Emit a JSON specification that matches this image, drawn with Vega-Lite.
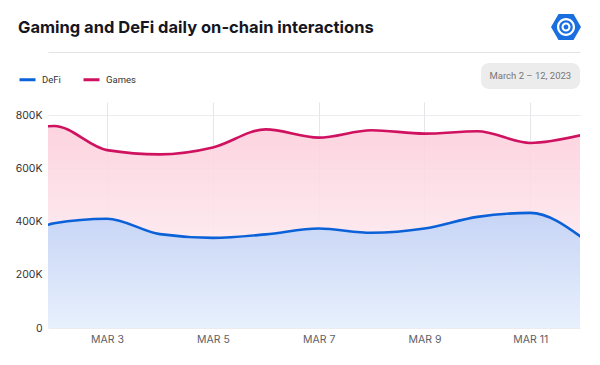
{
  "$schema": "https://vega.github.io/schema/vega-lite/v6.json",
  "width": 532,
  "height": 226,
  "autosize": {"type": "none"},
  "padding": {"left": 48, "top": 102, "right": 20, "bottom": 37},
  "background": "white",
  "title": {
    "text": "Gaming and DeFi daily on-chain interactions",
    "anchor": "start",
    "frame": "group",
    "dx": -30,
    "dy": 38,
    "offset": 14,
    "fontSize": 16.5,
    "font": "Inter",
    "fontWeight": 700,
    "color": "#16161f"
  },
  "config": {"view": {"stroke": null}, "font": "Inter"},
  "data": {
    "values": [
      {"date": "2023-03-01T00:00:00Z", "series": "Games", "value": 690000},
      {"date": "2023-03-02T00:00:00Z", "series": "Games", "value": 760000},
      {"date": "2023-03-03T00:00:00Z", "series": "Games", "value": 669000},
      {"date": "2023-03-04T00:00:00Z", "series": "Games", "value": 653000},
      {"date": "2023-03-05T00:00:00Z", "series": "Games", "value": 679000},
      {"date": "2023-03-06T00:00:00Z", "series": "Games", "value": 747000},
      {"date": "2023-03-07T00:00:00Z", "series": "Games", "value": 716000},
      {"date": "2023-03-08T00:00:00Z", "series": "Games", "value": 744000},
      {"date": "2023-03-09T00:00:00Z", "series": "Games", "value": 731000},
      {"date": "2023-03-10T00:00:00Z", "series": "Games", "value": 740000},
      {"date": "2023-03-11T00:00:00Z", "series": "Games", "value": 696000},
      {"date": "2023-03-12T00:00:00Z", "series": "Games", "value": 727000},
      {"date": "2023-03-01T00:00:00Z", "series": "DeFi", "value": 275000},
      {"date": "2023-03-02T00:00:00Z", "series": "DeFi", "value": 394000},
      {"date": "2023-03-03T00:00:00Z", "series": "DeFi", "value": 411000},
      {"date": "2023-03-04T00:00:00Z", "series": "DeFi", "value": 353000},
      {"date": "2023-03-05T00:00:00Z", "series": "DeFi", "value": 339000},
      {"date": "2023-03-06T00:00:00Z", "series": "DeFi", "value": 352000},
      {"date": "2023-03-07T00:00:00Z", "series": "DeFi", "value": 374000},
      {"date": "2023-03-08T00:00:00Z", "series": "DeFi", "value": 358000},
      {"date": "2023-03-09T00:00:00Z", "series": "DeFi", "value": 374000},
      {"date": "2023-03-10T00:00:00Z", "series": "DeFi", "value": 418000},
      {"date": "2023-03-11T00:00:00Z", "series": "DeFi", "value": 433000},
      {"date": "2023-03-12T00:00:00Z", "series": "DeFi", "value": 337000}
    ]
  },
  "layer": [
    {
      "transform": [{"filter": "datum.series === 'Games'"}],
      "mark": {
        "type": "area",
        "interpolate": "monotone",
        "clip": true,
        "opacity": 0.9,
        "color": {
          "gradient": "linear",
          "x1": 0, "y1": 0, "x2": 0, "y2": 1,
          "stops": [
            {"offset": 0, "color": "#fccfdc"},
            {"offset": 0.5, "color": "#fde5ec"},
            {"offset": 1, "color": "#ffffff"}
          ]
        }
      },
      "encoding": {
        "x": {
          "field": "date",
          "type": "temporal",
          "scale": {
            "type": "utc",
            "domain": [
              {"year": 2023, "month": 3, "date": 1, "hours": 21, "minutes": 13, "utc": true},
              {"year": 2023, "month": 3, "date": 11, "hours": 22, "minutes": 33, "utc": true}
            ]
          },
          "axis": {
            "values": [
              {"year": 2023, "month": 3, "date": 3, "utc": true},
              {"year": 2023, "month": 3, "date": 5, "utc": true},
              {"year": 2023, "month": 3, "date": 7, "utc": true},
              {"year": 2023, "month": 3, "date": 9, "utc": true},
              {"year": 2023, "month": 3, "date": 11, "utc": true}
            ],
            "labelExpr": "upper(utcFormat(datum.value, '%b %-d'))",
            "grid": true,
            "gridColor": "#e6e6ea",
            "ticks": false,
            "tickSize": 0,
            "domain": false,
            "labelPadding": 6,
            "labelFontSize": 10.5,
            "labelColor": "#606066",
            "title": null
          }
        },
        "y": {
          "field": "value",
          "type": "quantitative",
          "scale": {"domain": [0, 850000], "nice": false},
          "axis": {
            "values": [0, 200000, 400000, 600000, 800000],
            "labelExpr": "datum.value == 0 ? '0' : format(datum.value / 1000, 'd') + 'K'",
            "grid": true,
            "gridColor": "#ececf0",
            "ticks": false,
            "tickSize": 0,
            "domain": false,
            "labelPadding": 6,
            "labelFontSize": 10.5,
            "labelColor": "#333333",
            "title": null
          }
        }
      }
    },
    {
      "transform": [{"filter": "datum.series === 'DeFi'"}],
      "mark": {
        "type": "area",
        "interpolate": "monotone",
        "clip": true,
        "opacity": 0.92,
        "color": {
          "gradient": "linear",
          "x1": 0, "y1": 0, "x2": 0, "y2": 1,
          "stops": [
            {"offset": 0, "color": "#c2d3f6"},
            {"offset": 1, "color": "#e6effd"}
          ]
        }
      },
      "encoding": {
        "x": {"field": "date", "type": "temporal", "axis": null},
        "y": {"field": "value", "type": "quantitative"}
      }
    },
    {
      "mark": {"type": "line", "interpolate": "monotone", "clip": true, "strokeWidth": 2.6},
      "encoding": {
        "x": {"field": "date", "type": "temporal", "axis": null},
        "y": {"field": "value", "type": "quantitative"},
        "color": {
          "field": "series",
          "type": "nominal",
          "scale": {"domain": ["DeFi", "Games"], "range": ["#0b62d8", "#cf1160"]},
          "legend": {
            "orient": "none",
            "legendX": -30,
            "legendY": -32,
            "direction": "horizontal",
            "title": null,
            "symbolType": "stroke",
            "symbolStrokeWidth": 3,
            "symbolSize": 256,
            "labelFont": "Roboto",
            "labelFontSize": 9.5,
            "labelColor": "#333333",
            "labelOffset": 5,
            "columnPadding": 16,
            "padding": 0
          }
        }
      }
    },
    {
      "mark": {"type": "point", "filled": true, "clip": true, "color": "#1a6fe0", "size": 0, "strokeWidth": 0},
      "encoding": {
        "x": {
          "field": "date",
          "type": "temporal",
          "axis": {
            "orient": "top",
            "offset": 50,
            "labels": false,
            "ticks": false,
            "grid": false,
            "domain": true,
            "domainColor": "#e4e4e8",
            "domainWidth": 1,
            "title": null
          }
        },
        "y": {"field": "value", "type": "quantitative"},
        "opacity": {
          "datum": "March 2 – 12, 2023",
          "type": "ordinal",
          "scale": {"range": [0]},
          "legend": {
            "orient": "none",
            "legendX": 433,
            "legendY": -39,
            "title": null,
            "fillColor": "#ececec",
            "cornerRadius": 8,
            "padding": 8,
            "symbolSize": 0,
            "symbolOpacity": 0,
            "labelOffset": -9,
            "labelFont": "Roboto",
            "labelFontSize": 9.5,
            "labelColor": "#777777",
            "encode": {
              "symbols": {
                "update": {
                  "size": {"value": 0},
                  "opacity": {"value": 0}
                }
              }
            }
          }
        },
        "shape": {
          "datum": "logo",
          "type": "nominal",
          "scale": {
            "range": ["M-1,0L-0.5,-0.866L0.5,-0.866L1,0L0.5,0.866L-0.5,0.866Z M0.6,0A0.6,0.6 0 1 0 -0.6,0A0.6,0.6 0 1 0 0.6,0Z M0.45,0A0.45,0.45 0 1 1 -0.45,0A0.45,0.45 0 1 1 0.45,0Z M0.3,0A0.3,0.3 0 1 0 -0.3,0A0.3,0.3 0 1 0 0.3,0Z M0.16,0A0.16,0.16 0 1 1 -0.16,0A0.16,0.16 0 1 1 0.16,0Z"]
          },
          "legend": {
            "orient": "none",
            "legendX": 503,
            "legendY": -90,
            "title": null,
            "padding": 0,
            "symbolSize": 900,
            "symbolFillColor": "#1a6fe0",
            "symbolStrokeWidth": 0,
            "symbolOpacity": 1,
            "labelExpr": "''",
            "labelOffset": 0,
            "encode": {
              "symbols": {
                "update": {
                  "fill": {"value": "#1a6fe0"},
                  "opacity": {"value": 1},
                  "size": {"value": 900},
                  "strokeWidth": {"value": 0}
                }
              }
            }
          }
        }
      }
    }
  ],
  "resolve": {"axis": {"x": "independent"}}
}
